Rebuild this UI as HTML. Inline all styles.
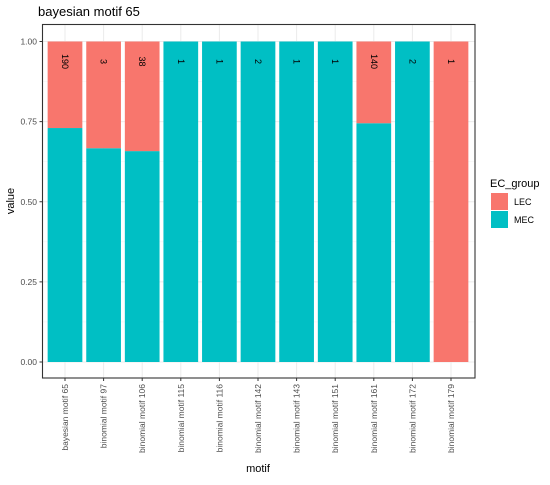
<!DOCTYPE html>
<html><head><meta charset="utf-8"><style>
body{margin:0;background:#fff;font-family:"Liberation Sans",sans-serif}
</style></head><body>
<svg id="c" width="550" height="480" xmlns="http://www.w3.org/2000/svg" font-family="Liberation Sans, sans-serif">
<text x="38" y="16" font-size="13" fill="#000">bayesian motif 65</text>
<g id="grid"></g><g id="bars"></g><g id="labels"></g>
<rect x="42.5" y="24.5" width="432.5" height="353.5" fill="none" stroke="#333" stroke-width="1.1"/>
<g id="axes"></g>
<text x="14" y="201" font-size="11" text-anchor="middle" transform="rotate(-90 14 201)">value</text>
<text x="258" y="472" font-size="11" text-anchor="middle">motif</text>
<g>
<text x="490" y="187" font-size="11">EC_group</text>
<rect x="491" y="193" width="17" height="17" fill="#F8766D"/>
<text x="514" y="205" font-size="9">LEC</text>
<rect x="491" y="211" width="17" height="17" fill="#00BFC4"/>
<text x="514" y="223" font-size="9">MEC</text>
</g>
</svg>
<script>
const categories=["bayesian motif 65","binomial motif 97","binomial motif 106","binomial motif 115","binomial motif 116","binomial motif 142","binomial motif 143","binomial motif 151","binomial motif 161","binomial motif 172","binomial motif 179"];
const mecValues=[0.73,0.667,0.658,1,1,1,1,1,0.745,1,0];
const lecValues=[0.27,0.333,0.342,0,0,0,0,0,0.255,0,1];
const countLabels=["190","3","38","1","1","2","1","1","140","2","1"];
const yTicks=[0,0.25,0.5,0.75,1];
const yTickLabels=["0.00","0.25","0.50","0.75","1.00"];
const NS="http://www.w3.org/2000/svg";
const x=i=>65+i*38.6;
const y=v=>362-v*320.5;
const bw=34.7;
function mk(t,a,p){const e=document.createElementNS(NS,t);for(const k in a)e.setAttribute(k,a[k]);p.appendChild(e);return e;}
const G=document.getElementById('grid'),B=document.getElementById('bars'),L=document.getElementById('labels'),A=document.getElementById('axes');
for(let i=0;i<yTicks.length;i++){
 const g=mk('line',{x1:42.5,x2:475,y1:y(yTicks[i]),y2:y(yTicks[i]),stroke:'#ebebeb','stroke-width':1},G);
 
 if(i<yTicks.length-1){const m=mk('line',{x1:42.5,x2:475,y1:y((yTicks[i]+yTicks[i+1])/2),y2:y((yTicks[i]+yTicks[i+1])/2),stroke:'#f3f3f3','stroke-width':0.6},G);
 }
 const t=mk('line',{x1:39.5,x2:42.5,y1:y(yTicks[i]),y2:y(yTicks[i]),stroke:'#333'},A);
 
 const tl=mk('text',{x:37,y:y(yTicks[i])+3,'font-size':8.5,fill:'#4d4d4d','text-anchor':'end'},A);tl.textContent=yTickLabels[i];
 
}
categories.forEach((c,i)=>{
 const g=mk('line',{x1:x(i),x2:x(i),y1:24.5,y2:378,stroke:'#ebebeb'},G);
 
 const m=mk('rect',{x:x(i)-bw/2,y:y(mecValues[i]),width:bw,height:y(0)-y(mecValues[i]),fill:'#00BFC4'},B);
 
 const l=mk('rect',{x:x(i)-bw/2,y:y(mecValues[i]+lecValues[i]),width:bw,height:y(mecValues[i])-y(mecValues[i]+lecValues[i]),fill:'#F8766D'},B);
 
 const top=y(mecValues[i]+lecValues[i]);
 const ct=mk('text',{x:0,y:0,'font-size':9,fill:'#000','text-anchor':'middle',transform:`translate(${x(i)-3},${top+20}) rotate(90)`},L);ct.textContent=countLabels[i];
 
 const t=mk('line',{x1:x(i),x2:x(i),y1:378,y2:381,stroke:'#333'},A);
 
 const tl=mk('text',{x:0,y:0,'font-size':8.5,fill:'#4d4d4d','text-anchor':'end',transform:`translate(${x(i)+3},384) rotate(-90)`},A);tl.textContent=c;
 
});
</script>
</body></html>
